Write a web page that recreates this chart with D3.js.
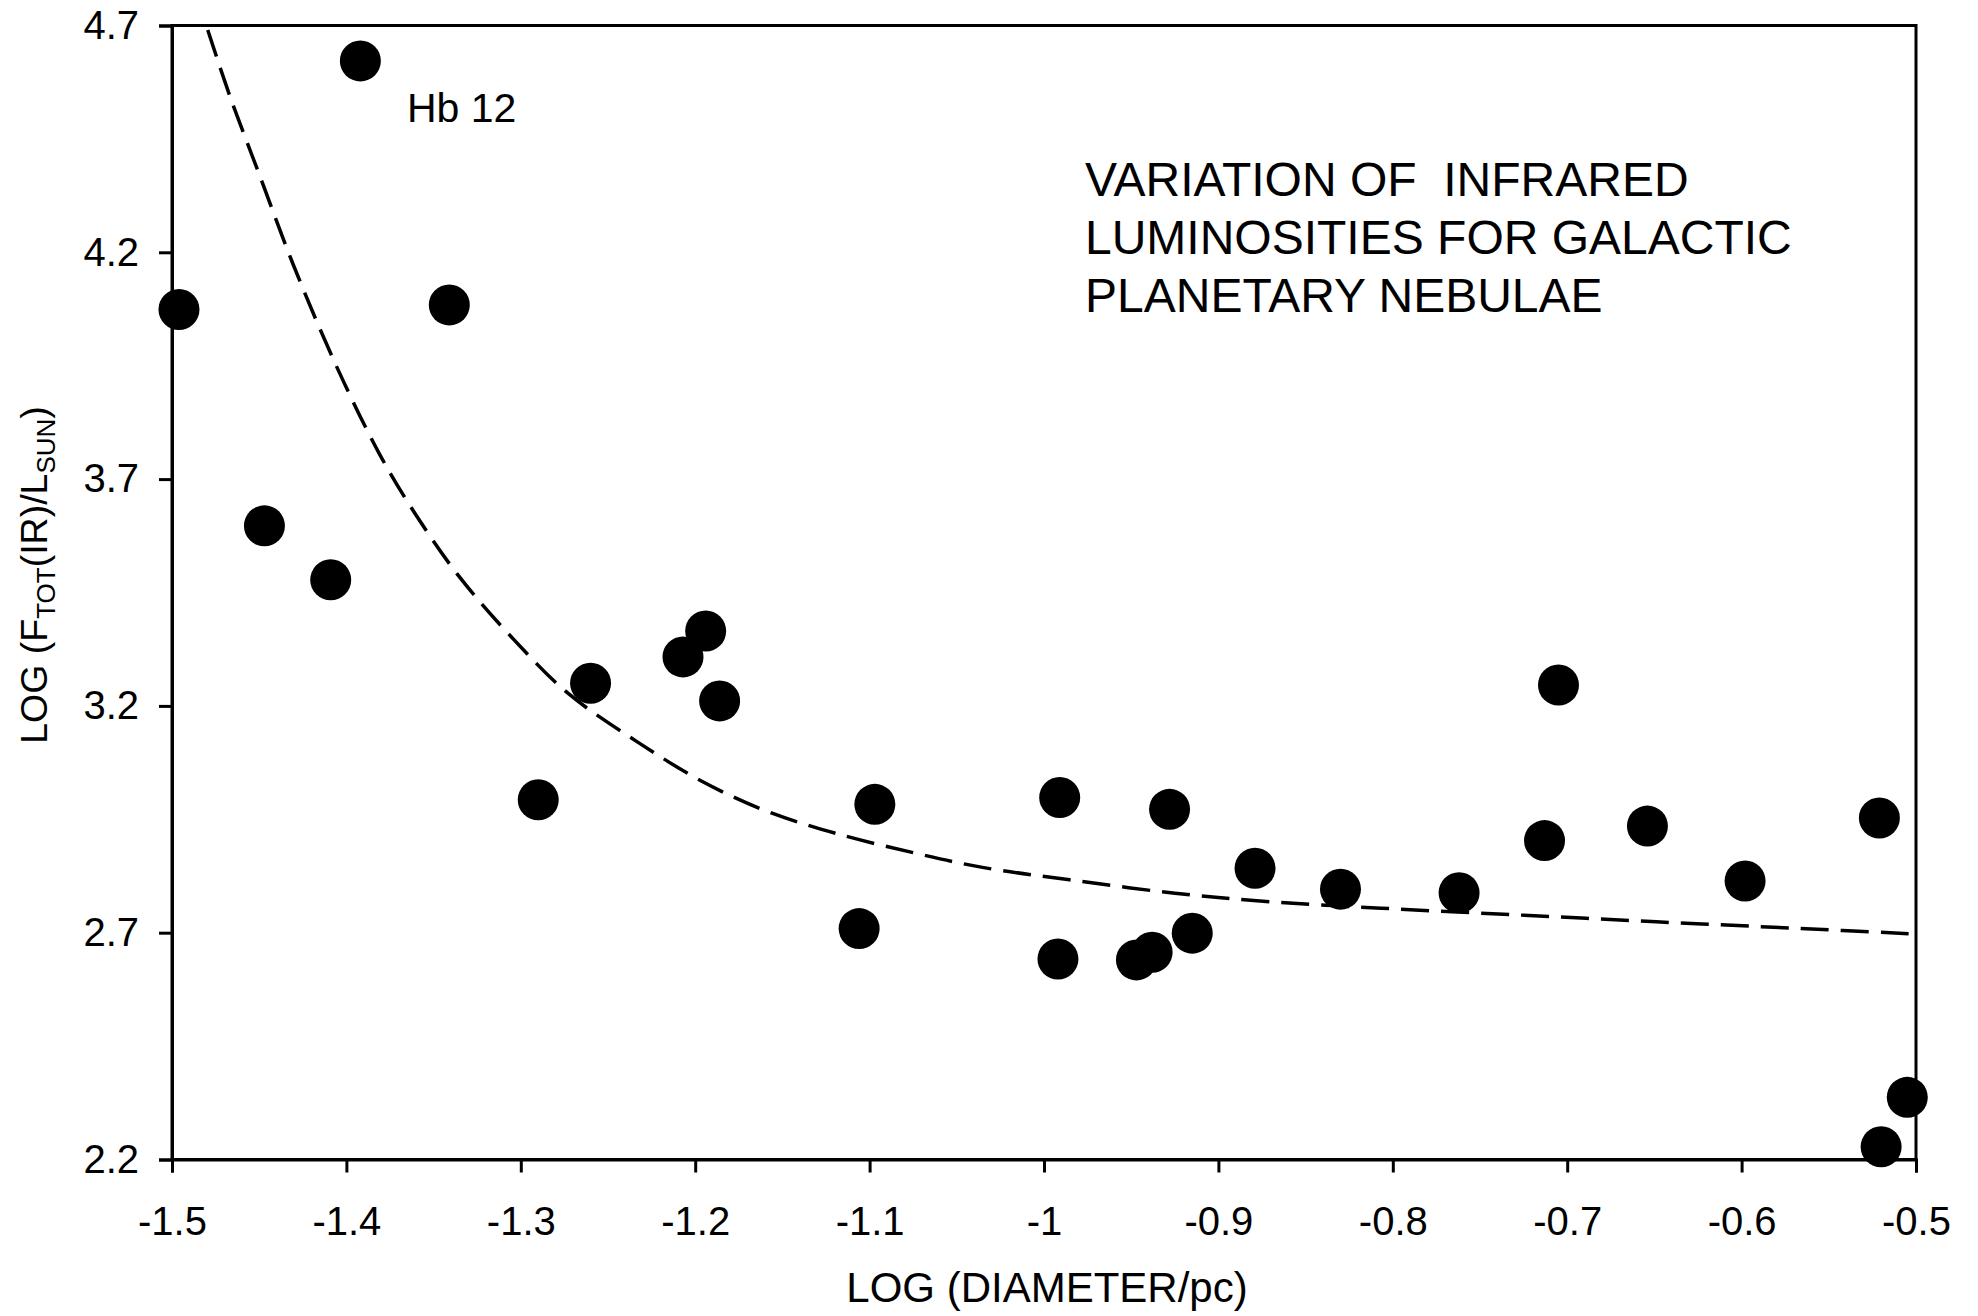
<!DOCTYPE html>
<html>
<head>
<meta charset="utf-8">
<script src="https://cdn.jsdelivr.net/npm/d3@7"></script>
<style>
  html, body { margin: 0; padding: 0; background: #fff; }
  svg { display: block; }
  text { font-family: "Liberation Sans", Arial, sans-serif; fill: #000; }
</style>
</head>
<body>
<svg id="chart" width="1978" height="1316"></svg>
<script>
// Galactic planetary nebulae: log diameter (pc) vs log infrared luminosity (L_sun)
const logDiameter = [
  -1.496, -1.392, -1.341, -1.447, -1.409, -1.260, -1.290, -1.207, -1.194, -1.186,
  -1.097, -1.106, -0.991, -0.992, -0.947, -0.938, -0.915, -0.928, -0.879, -0.830,
  -0.762, -0.713, -0.705, -0.654, -0.598, -0.521, -0.520, -0.505
];
const logLuminosity = [
  4.074, 4.622, 4.084, 3.597, 3.478, 3.250, 2.993, 3.308, 3.365, 3.211,
  2.983, 2.709, 2.998, 2.642, 2.640, 2.657, 2.699, 2.972, 2.842, 2.796,
  2.788, 2.903, 3.246, 2.935, 2.814, 2.953, 2.228, 2.337
];

// Fitted trend (dashed curve)
const fitX = [
  -1.4795, -1.4667, -1.4495, -1.4304, -1.4056, -1.3807, -1.3601, -1.3345,
  -1.3037, -1.2730, -1.2321, -1.1962, -1.1604, -1.1194, -1.0734, -1.0353,
  -0.9840, -0.9249, -0.8697, -0.8066, -0.7278, -0.6489, -0.5701, -0.5000
];
const fitY = [
  4.690, 4.543, 4.367, 4.172, 3.948, 3.753, 3.621, 3.481,
  3.345, 3.228, 3.118, 3.034, 2.970, 2.919, 2.875, 2.844,
  2.816, 2.787, 2.768, 2.754, 2.739, 2.724, 2.710, 2.697
];

const xTicks = [-1.5, -1.4, -1.3, -1.2, -1.1, -1, -0.9, -0.8, -0.7, -0.6, -0.5];
const yTicks = [2.2, 2.7, 3.2, 3.7, 4.2, 4.7];

const labelName = "Hb 12";
const titleLines = ["VARIATION OF  INFRARED", "LUMINOSITIES FOR GALACTIC", "PLANETARY NEBULAE"];

(function draw() {
  const svg = d3.select("#chart");
  const pLeft = 172, pRight = 1916, pTop = 25.5, pBottom = 1159.5;

  const x = d3.scaleLinear().domain([-1.5, -0.5]).range([pLeft, pRight]);
  const y = d3.scaleLinear().domain([2.2, 4.7]).range([pBottom, pTop]);

  // Frame
  svg.append("rect")
    .attr("x", pLeft).attr("y", pTop)
    .attr("width", pRight - pLeft).attr("height", pBottom - pTop)
    .attr("fill", "none").attr("stroke", "#000").attr("stroke-width", 3);

  // Axes
  const xAxis = d3.axisBottom(x).tickValues(xTicks).tickSizeOuter(0).tickSize(13).tickPadding(34)
    .tickFormat(d => String(d));
  const yAxis = d3.axisLeft(y).tickValues(yTicks).tickSizeOuter(0).tickSize(13).tickPadding(20)
    .tickFormat(d3.format(".1f"));

  const gx = svg.append("g").attr("transform", `translate(0,${pBottom})`).call(xAxis);
  const gy = svg.append("g").attr("transform", `translate(${pLeft},0)`).call(yAxis);
  [gx, gy].forEach(g => {
    g.select(".domain").attr("stroke", "#000").attr("stroke-width", 3);
    g.selectAll(".tick line").attr("stroke", "#000").attr("stroke-width", 3);
    g.selectAll(".tick text")
      .attr("font-family", "'Liberation Sans', Arial, sans-serif")
      .attr("font-size", 40).attr("fill", "#000");
  });

  // Dashed fit curve
  const fitPts = fitX.map((v, i) => [v, fitY[i]]);
  svg.append("path")
    .datum(fitPts)
    .attr("d", d3.line().x(d => x(d[0])).y(d => y(d[1])).curve(d3.curveCatmullRom))
    .attr("fill", "none").attr("stroke", "#000")
    .attr("stroke-width", 3.5).attr("stroke-dasharray", "28,12");

  // Data points
  svg.append("g").selectAll("circle")
    .data(logDiameter.map((v, i) => [v, logLuminosity[i]]))
    .join("circle")
    .attr("cx", d => x(d[0])).attr("cy", d => y(d[1]))
    .attr("r", 20.5).attr("fill", "#000");

  // Annotation for the brightest object
  svg.append("text").attr("x", 407).attr("y", 122)
    .attr("font-size", 41).text(labelName);

  // Title block
  svg.append("g").selectAll("text")
    .data(titleLines)
    .join("text")
    .attr("x", 1085).attr("y", (d, i) => 196 + i * 58)
    .attr("font-size", 48).style("white-space", "pre")
    .text(d => d);

  // Axis titles
  svg.append("text")
    .attr("x", 1047).attr("y", 1302)
    .attr("text-anchor", "middle").attr("font-size", 42)
    .text("LOG (DIAMETER/pc)");

  const yt = svg.append("text")
    .attr("transform", "translate(47,575) rotate(-90)")
    .attr("text-anchor", "middle").attr("font-size", 37.5);
  yt.append("tspan").text("LOG (F");
  yt.append("tspan").attr("font-size", 26).attr("dy", 7.5).text("TOT");
  yt.append("tspan").attr("dy", -7.5).text("(IR)/L");
  yt.append("tspan").attr("font-size", 26).attr("dy", 7.5).text("SUN");
  yt.append("tspan").attr("dy", -7.5).text(")");
})();
</script>
</body>
</html>
